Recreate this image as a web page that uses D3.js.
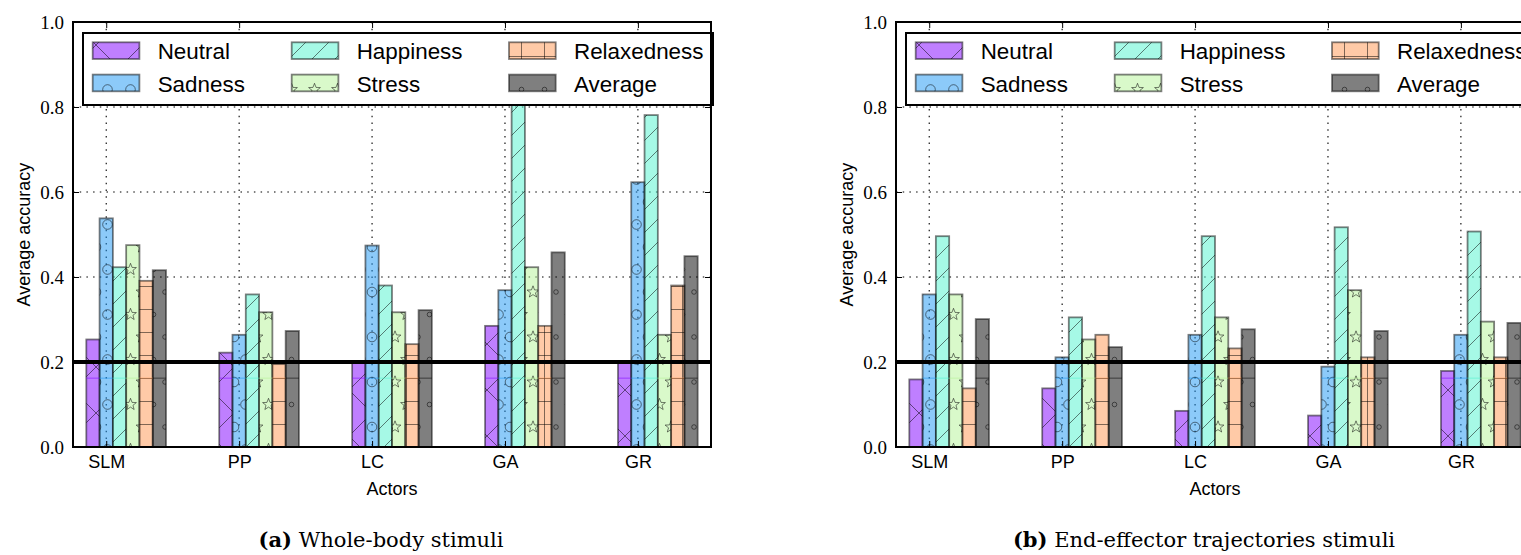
<!DOCTYPE html>
<html>
<head>
<meta charset="utf-8">
<script src="https://cdn.jsdelivr.net/npm/d3@7"></script>
<style>
  body { margin: 0; background: #fff; overflow: hidden; }
  svg { display: block; }
</style>
</head>
<body>
<svg width="1521" height="555"></svg>
<script>
var actors = ["SLM", "PP", "LC", "GA", "GR"];
var emotions = ["Neutral", "Sadness", "Happiness", "Stress", "Relaxedness", "Average"];
var yTicks = [0, 0.2, 0.4, 0.6, 0.8, 1.0];
var chance = 0.2;

// (a) whole-body stimuli
var bodyNeutral     = [0.253, 0.222, 0.200, 0.285, 0.200];
var bodySadness     = [0.538, 0.264, 0.474, 0.369, 0.623];
var bodyHappiness   = [0.423, 0.359, 0.380, 0.920, 0.781];
var bodyStress      = [0.475, 0.317, 0.317, 0.423, 0.264];
var bodyRelaxedness = [0.391, 0.195, 0.242, 0.285, 0.380];
var bodyAverage     = [0.416, 0.273, 0.322, 0.458, 0.449];

// (b) end-effector trajectories stimuli
var effNeutral     = [0.159, 0.138, 0.085, 0.074, 0.179];
var effSadness     = [0.359, 0.211, 0.264, 0.189, 0.264];
var effHappiness   = [0.496, 0.305, 0.496, 0.517, 0.507];
var effStress      = [0.359, 0.253, 0.305, 0.369, 0.295];
var effRelaxedness = [0.138, 0.264, 0.232, 0.211, 0.211];
var effAverage     = [0.301, 0.235, 0.277, 0.273, 0.292];

var panels = [
  { tag: "(a)", caption: " Whole-body stimuli", left: 73,
    series: [bodyNeutral, bodySadness, bodyHappiness, bodyStress, bodyRelaxedness, bodyAverage] },
  { tag: "(b)", caption: " End-effector trajectories stimuli", left: 896,
    series: [effNeutral, effSadness, effHappiness, effStress, effRelaxedness, effAverage] }
];

// rainbow colormap samples, drawn at alpha .5 like the original
var colors = ["#8000ff", "#1996f3", "#4df3ce", "#b3f396", "#ff964f", "#000000"];
var hatchIds = ["hx", "ho", "hslash", "hstar", "hplus", "hdot"];

var svg = d3.select("svg");
var W = 638, H = 425, plotTop = 22;

var x = d3.scaleLinear().domain([-0.25, 4.55]).range([0, W]);
var y = d3.scaleLinear().domain([0, 1]).range([H, 0]);
var bw = x(0.1) - x(0);

// ---- hatch patterns
var defs = svg.append("defs");
function pattern(id, w, h) {
  return defs.append("pattern")
      .attr("id", id)
      .attr("patternUnits", "userSpaceOnUse")
      .attr("width", w).attr("height", h)
    .append("g")
      .attr("fill", "none")
      .attr("stroke", "#000")
      .attr("stroke-opacity", 0.5)
      .attr("stroke-width", 1);
}
function starPath(cx, cy, ro, ri) {
  var p = [];
  for (var i = 0; i < 10; i++) {
    var r = i % 2 ? ri : ro, a = -Math.PI / 2 + i * Math.PI / 5;
    p.push([cx + r * Math.cos(a), cy + r * Math.sin(a)]);
  }
  return "M" + p.join("L") + "Z";
}
var grid5 = [[0, 0], [23, 0], [0, 45], [23, 45], [11.5, 22.5]];

pattern("hx", 46, 46).append("path").attr("d", "M0,0L46,46M46,0L0,46");
pattern("hslash", 23, 23).append("path").attr("d", "M0,23L23,0M-2,2L2,-2M21,25L25,21");
pattern("hplus", 23, 23).append("path").attr("d", "M0,11.5H23M11.5,0V23");
var po = pattern("ho", 23, 45);
grid5.forEach(function(c) { po.append("circle").attr("cx", c[0]).attr("cy", c[1]).attr("r", 4.8); });
var ps = pattern("hstar", 23, 45);
grid5.forEach(function(c) { ps.append("path").attr("d", starPath(c[0], c[1], 6.2, 2.6)); });
var pd = pattern("hdot", 23, 45);
grid5.forEach(function(c) { pd.append("circle").attr("cx", c[0]).attr("cy", c[1]).attr("r", 2.3); });

function hatchedRect(g, rx, ry, rw, rh, k) {
  g.append("rect").attr("x", rx).attr("y", ry).attr("width", rw).attr("height", rh)
    .attr("fill", colors[k]).attr("fill-opacity", 0.5);
  g.append("rect").attr("x", rx).attr("y", ry).attr("width", rw).attr("height", rh)
    .attr("fill", "url(#" + hatchIds[k] + ")");
  g.append("rect").attr("x", rx).attr("y", ry).attr("width", rw).attr("height", rh)
    .attr("fill", "none").attr("stroke", "#000").attr("stroke-opacity", 0.5).attr("stroke-width", 1.8);
}

panels.forEach(function(p) {
  var g = svg.append("g").attr("transform", "translate(" + p.left + "," + plotTop + ")");

  // grid (under the translucent bars)
  var grid = g.append("g").attr("stroke", "#000").attr("stroke-width", 1.1)
      .attr("stroke-dasharray", "1.5,5.2");
  grid.selectAll(".gy").data(yTicks.slice(1, -1)).enter().append("line")
      .attr("x1", 0).attr("x2", W).attr("y1", y).attr("y2", y);
  grid.selectAll(".gx").data(d3.range(actors.length)).enter().append("line")
      .attr("x1", x).attr("x2", x).attr("y1", 0).attr("y2", H);

  // bars
  var table = [];
  p.series.forEach(function(vals, k) {
    vals.forEach(function(v, i) { table.push({ k: k, i: i, v: v }); });
  });
  var bars = g.append("g");
  table.forEach(function(d) {
    hatchedRect(bars, x(d.i - 0.15 + 0.1 * d.k), y(d.v), bw, y(0) - y(d.v), d.k);
  });
  // faint tile seam visible in the original rendering
  g.append("g").selectAll("line").data(table.filter(function(d) { return d.v > 0.162; }))
    .enter().append("line")
      .attr("x1", function(d) { return x(d.i - 0.15 + 0.1 * d.k); })
      .attr("x2", function(d) { return x(d.i - 0.05 + 0.1 * d.k); })
      .attr("y1", y(0.162)).attr("y2", y(0.162))
      .attr("stroke", function(d) { return colors[d.k]; })
      .attr("stroke-opacity", 0.55).attr("stroke-width", 1);

  // chance level
  g.append("line").attr("x1", 0).attr("x2", W).attr("y1", y(chance)).attr("y2", y(chance))
    .attr("stroke", "#000").attr("stroke-width", 4);

  // legend
  var lg = g.append("g");
  lg.append("rect").attr("x", 10).attr("y", 11).attr("width", 630).attr("height", 72)
    .attr("fill", "#fff").attr("stroke", "#000").attr("stroke-width", 2);
  var colX = [19.7, 218.7, 436];
  emotions.forEach(function(name, k) {
    var cx = colX[Math.floor(k / 2)], ry = 20.3 + (k % 2) * 32.3;
    hatchedRect(lg, cx, ry, 46.7, 16.7, k);
    lg.append("text").attr("x", cx + 65).attr("y", ry + 17)
      .attr("font-family", "Liberation Sans, Arial, sans-serif").attr("font-size", 22.4)
      .text(name);
  });

  // axes: inward ticks on all sides
  var serif = "Liberation Serif, Times New Roman, serif";
  var sans = "Liberation Sans, Arial, sans-serif";
  var ya = g.append("g").call(d3.axisLeft(y).tickValues(yTicks).tickFormat(d3.format(".1f"))
      .tickSize(-6).tickPadding(9));
  ya.selectAll("text").attr("font-family", serif).attr("font-size", 19).attr("fill", "#000");
  g.append("g").attr("transform", "translate(" + W + ",0)")
    .call(d3.axisRight(y).tickValues(yTicks).tickSize(-6).tickFormat(""));
  var xa = g.append("g").attr("transform", "translate(0," + H + ")")
    .call(d3.axisBottom(x).tickValues(d3.range(actors.length))
      .tickFormat(function(i) { return actors[i]; }).tickSize(-6).tickPadding(8));
  xa.selectAll("text").attr("font-family", sans).attr("font-size", 18).attr("fill", "#000");
  g.append("g").call(d3.axisTop(x).tickValues(d3.range(actors.length)).tickSize(-6).tickFormat(""));
  g.selectAll(".domain").remove();
  g.selectAll(".tick line").attr("stroke", "#000").attr("stroke-width", 1);

  g.append("rect").attr("width", W).attr("height", H)
    .attr("fill", "none").attr("stroke", "#000").attr("stroke-width", 2);

  // axis titles
  g.append("text").attr("x", W / 2).attr("y", 473).attr("text-anchor", "middle")
    .attr("font-family", sans).attr("font-size", 18).text("Actors");
  g.append("text").attr("transform", "translate(-43," + (H / 2) + ") rotate(-90)")
    .attr("text-anchor", "middle").attr("font-family", sans).attr("font-size", 18)
    .text("Average accuracy");

  // caption
  var cap = g.append("text").attr("x", 308).attr("y", 525).attr("text-anchor", "middle")
    .attr("font-family", "DejaVu Serif, serif").attr("font-size", 21);
  cap.append("tspan").attr("font-weight", "bold").text(p.tag);
  cap.append("tspan").text(p.caption);
});
</script>
</body>
</html>
